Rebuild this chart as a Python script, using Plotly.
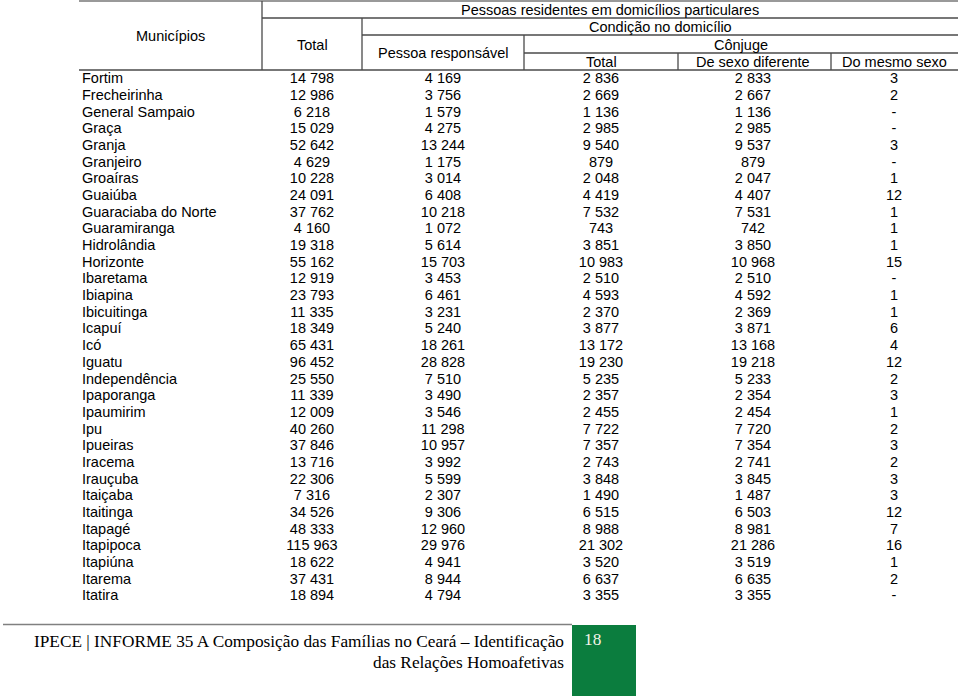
import plotly.graph_objects as go

# ---------------- data ----------------
municipios = [
    "Fortim", "Frecheirinha", "General Sampaio", "Graça", "Granja", "Granjeiro",
    "Groaíras", "Guaiúba", "Guaraciaba do Norte", "Guaramiranga", "Hidrolândia",
    "Horizonte", "Ibaretama", "Ibiapina", "Ibicuitinga", "Icapuí", "Icó", "Iguatu",
    "Independência", "Ipaporanga", "Ipaumirim", "Ipu", "Ipueiras", "Iracema",
    "Irauçuba", "Itaiçaba", "Itaitinga", "Itapagé", "Itapipoca", "Itapiúna",
    "Itarema", "Itatira",
]
total = [14798, 12986, 6218, 15029, 52642, 4629, 10228, 24091, 37762, 4160, 19318,
         55162, 12919, 23793, 11335, 18349, 65431, 96452, 25550, 11339, 12009,
         40260, 37846, 13716, 22306, 7316, 34526, 48333, 115963, 18622, 37431, 18894]
pessoa_responsavel = [4169, 3756, 1579, 4275, 13244, 1175, 3014, 6408, 10218, 1072,
                      5614, 15703, 3453, 6461, 3231, 5240, 18261, 28828, 7510, 3490,
                      3546, 11298, 10957, 3992, 5599, 2307, 9306, 12960, 29976, 4941,
                      8944, 4794]
conjuge_total = [2836, 2669, 1136, 2985, 9540, 879, 2048, 4419, 7532, 743, 3851,
                 10983, 2510, 4593, 2370, 3877, 13172, 19230, 5235, 2357, 2455,
                 7722, 7357, 2743, 3848, 1490, 6515, 8988, 21302, 3520, 6637, 3355]
conjuge_sexo_diferente = [2833, 2667, 1136, 2985, 9537, 879, 2047, 4407, 7531, 742,
                          3850, 10968, 2510, 4592, 2369, 3871, 13168, 19218, 5233,
                          2354, 2454, 7720, 7354, 2741, 3845, 1487, 6503, 8981, 21286,
                          3519, 6635, 3355]
conjuge_mesmo_sexo = [3, 2, None, None, 3, None, 1, 12, 1, 1, 1, 15, None, 1, 1, 6,
                      4, 12, 2, 3, 1, 2, 3, 2, 3, 3, 12, 7, 16, 1, 2, None]

header_top = "Pessoas residentes em domicílios particulares"
header_cond = "Condição no domicílio"
header_conj = "Cônjuge"
col_labels = ["Municípios", "Total", "Pessoa responsável", "Total",
              "De sexo diferente", "Do mesmo sexo"]
footer_line1 = "IPECE | INFORME 35 A Composição das Famílias no Ceará – Identificação"
footer_line2 = "das Relações Homoafetivas"
page_number = "18"

# ---------------- layout helpers ----------------
W, H = 960, 696
FONT = "Liberation Sans, Arial, sans-serif"
SERIF = "Liberation Serif, Times New Roman, serif"
FS = 14.5
TXT = "#000000"
LINE = "#4a4a4a"

x_left, x_right = 79, 958
x_v = [262, 362, 524, 678, 831]          # vertical separators
y_h = [1, 18, 35, 53, 70]                # header horizontal lines
row_top = 71.3
row_h = 16.68
col_centers = [None, 312, 443, 601, 753, 894]


def fmt(v):
    if v is None:
        return "-"
    return f"{v:,}".replace(",", " ")


n = len(municipios)
row_y = [row_top + row_h * (i + 0.5) for i in range(n)]

fig = go.Figure()

# names column
fig.add_trace(go.Scatter(
    x=[82] * n, y=row_y, text=municipios, mode="text",
    textposition="middle right", textfont=dict(family=FONT, size=FS, color=TXT),
    hoverinfo="skip", showlegend=False))

for series, cx in zip([total, pessoa_responsavel, conjuge_total,
                       conjuge_sexo_diferente, conjuge_mesmo_sexo], col_centers[1:]):
    fig.add_trace(go.Scatter(
        x=[cx] * n, y=row_y, text=[fmt(v) for v in series], mode="text",
        textposition="middle center", textfont=dict(family=FONT, size=FS, color=TXT),
        hoverinfo="skip", showlegend=False))

shapes = []


def hline(x0, x1, y, color=LINE, w=1.3):
    shapes.append(dict(type="line", xref="x", yref="y", x0=x0, x1=x1, y0=y, y1=y,
                       line=dict(color=color, width=w)))


def vline(x, y0, y1, color=LINE, w=1.3):
    shapes.append(dict(type="line", xref="x", yref="y", x0=x, x1=x, y0=y0, y1=y1,
                       line=dict(color=color, width=w)))


hline(x_left, x_right, y_h[0], color="#777777")
hline(x_v[0], x_right, y_h[1])
hline(x_v[1], x_right, y_h[2])
hline(x_v[2], x_right, y_h[3])
hline(x_left, x_right, y_h[4])
vline(x_v[0], y_h[0], y_h[4])
vline(x_v[1], y_h[1], y_h[4])
vline(x_v[2], y_h[2], y_h[4])
vline(x_v[3], y_h[3], y_h[4])
vline(x_v[4], y_h[3], y_h[4])

# footer
shapes.append(dict(type="line", xref="x", yref="y", x0=3, x1=572, y0=624.5, y1=624.5,
                   line=dict(color="#808080", width=1.5)))
shapes.append(dict(type="rect", xref="x", yref="y", x0=572, x1=636, y0=625, y1=697,
                   fillcolor="#0b7d3e", line=dict(width=0)))

annotations = []


def ann(text, x, y, xanchor="center", family=FONT, size=FS, color=TXT):
    annotations.append(dict(text=text, x=x, y=y, xref="x", yref="y", showarrow=False,
                            xanchor=xanchor, yanchor="middle",
                            font=dict(family=family, size=size, color=color)))


ann(col_labels[0], (x_left + x_v[0]) / 2, 36)
ann(header_top, (x_v[0] + x_right) / 2, 10)
ann(header_cond, (x_v[1] + x_right) / 2, 27)
ann(header_conj, (x_v[2] + x_right) / 2, 44.5)
ann(col_labels[1], col_centers[1], 45)
ann(col_labels[2], col_centers[2], 53)
ann(col_labels[3], col_centers[3], 62)
ann(col_labels[4], col_centers[4], 62)
ann(col_labels[5], col_centers[5], 62)

ann(footer_line1, 566, 641, xanchor="right", family=SERIF, size=17.3)
ann(footer_line2, 566, 662, xanchor="right", family=SERIF, size=17.3)
ann(page_number, 582, 639, xanchor="left", family=SERIF, size=17.3, color="#f4f4e8")

fig.update_layout(
    width=W, height=H, margin=dict(l=0, r=0, t=0, b=0),
    paper_bgcolor="white", plot_bgcolor="white",
    xaxis=dict(range=[0, W], visible=False, fixedrange=True),
    yaxis=dict(range=[H, 0], visible=False, fixedrange=True),
    shapes=shapes, annotations=annotations, showlegend=False,
)

fig.write_html("out.html", config={"displayModeBar": False},
               post_script="document.body.style.margin='0px';")
